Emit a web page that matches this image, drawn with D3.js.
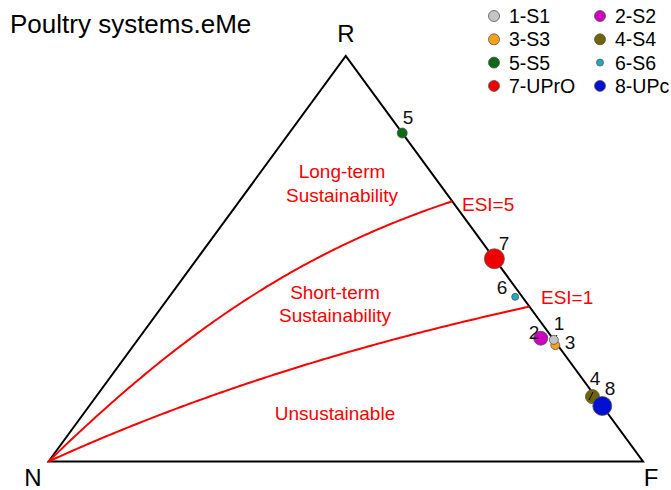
<!DOCTYPE html>
<html><head><meta charset="utf-8">
<script src="https://cdn.jsdelivr.net/npm/d3@7"></script>
<style>body{margin:0;background:#fff}svg{display:block}text{font-family:"Liberation Sans",Arial,sans-serif}</style>
</head><body>
<script>
// Data: emergy fractions (R renewable, N non-renewable, F purchased)
const ids = ["1","2","3","4","5","6","7","8"];
const names = ["1-S1","2-S2","3-S3","4-S4","5-S5","6-S6","7-UPrO","8-UPc"];
const rVals = [0.300,0.304,0.287,0.160,0.810,0.406,0.500,0.137];
const nVals = [0.000,0.020,0.004,0.005,0.000,0.012,0.000,0.000];
const colors = ["#c4c4c4","#d000c0","#f7a020","#6e6400","#0b6b12","#20a8c4","#ee0000","#0010d0"];
const sizes = [4.5,7,4.5,7,5,3.5,10,9.5];
const legendSizes = [5.5,5.5,5.5,5.5,5.5,3.5,5.5,5.5];
const esiValues = [1,5];
const W=671,H=490;
const svg=d3.select("body").append("svg").attr("width",W).attr("height",H);
const xs=d3.scaleLinear().domain([0,1]).range([48.5,643]);
const ys=d3.scaleLinear().domain([0,1]).range([461.5,56]);
const pos=(r,n)=>{const f=1-r-n;return [xs(f+0.5*r),ys(r)];};

// triangle
const tri=[pos(0,1),pos(1,0),pos(0,0)];
svg.append("path").attr("d","M"+tri.map(p=>p.join(",")).join("L")+"Z")
  .attr("fill","none").attr("stroke","#000").attr("stroke-width",2).attr("stroke-linejoin","miter");

// ESI curves: ESI = r/(f(1-r)) => r = ESI f/(1+ESI f)
esiValues.forEach(e=>{
  const rEdge=((2*e+1)-Math.sqrt((2*e+1)**2-4*e*e))/(2*e);
  const fEdge=1-rEdge;
  const pts=d3.range(0,201).map(i=>{const f=fEdge*i/200;const r=e*f/(1+e*f);return pos(r,1-r-f);});
  svg.append("path").attr("d",d3.line()(pts)).attr("fill","none").attr("stroke","#ff0000").attr("stroke-width",2);
});

// region labels
const red="#ff0000";
const lab=(t,x,y,a="middle")=>svg.append("text").attr("x",x).attr("y",y).attr("text-anchor",a).attr("font-size",19).attr("fill",red).text(t);
lab("Long-term",342,178);lab("Sustainability",342,202);
lab("Short-term",335,299);lab("Sustainability",335,322);
lab("Unsustainable",335,420);
lab("ESI=5",462,211,"start");lab("ESI=1",541,304,"start");

// leader line for 1
svg.append("line").attr("x1",552).attr("y1",344).attr("x2",557).attr("y2",335).attr("stroke","#000").attr("stroke-width",1);

// points
const order=[2,0,1,3,7,4,5,6];
order.forEach(i=>{
  const p=pos(rVals[i],nVals[i]);
  svg.append("circle").attr("cx",p[0]).attr("cy",p[1]).attr("r",sizes[i])
    .attr("fill",colors[i]).attr("stroke","#555").attr("stroke-width",0.8);
});
svg.append("line").attr("x1",589).attr("y1",400).attr("x2",593).attr("y2",392).attr("stroke","#000").attr("stroke-width",1);

// point labels
const labPos=[[559,330],[534,339],[570,349],[595,385],[408,124],[502,294],[504,250],[610,395]];
ids.forEach((t,i)=>svg.append("text").attr("x",labPos[i][0]).attr("y",labPos[i][1]).attr("text-anchor","middle").attr("font-size",19).attr("fill","#111").text(t));

// vertex labels
svg.append("text").attr("x",346).attr("y",42).attr("text-anchor","middle").attr("font-size",24).text("R");
svg.append("text").attr("x",33).attr("y",486).attr("text-anchor","middle").attr("font-size",24).text("N");
svg.append("text").attr("x",651).attr("y",486).attr("text-anchor","middle").attr("font-size",24).text("F");

// title
svg.append("text").attr("x",10).attr("y",33).attr("font-size",26).text("Poultry systems.eMe");

// legend
names.forEach((nm,i)=>{
  const col=i%2,row=Math.floor(i/2);
  const cx=col?600:494, cy=16+row*23.3;
  svg.append("circle").attr("cx",cx).attr("cy",cy).attr("r",legendSizes[i]).attr("fill",colors[i]).attr("stroke","#555").attr("stroke-width",0.8);
  svg.append("text").attr("x",cx+15).attr("y",cy+7).attr("font-size",19.5).text(nm);
});
</script>
</body></html>
